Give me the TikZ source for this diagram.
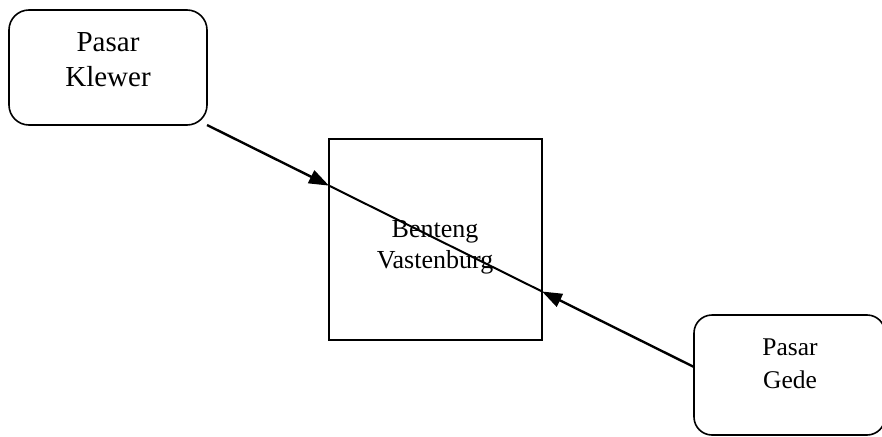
\documentclass[tikz,border=0pt]{standalone}
\usepackage{fontspec}
\setmainfont{Liberation Serif}
\usetikzlibrary{arrows.meta,calc}
% two centred lines whose baseline is that of the first line
\newcommand{\twolines}[2]{\begin{tabular}[t]{@{}c@{}}#1\\#2\end{tabular}}
\begin{document}
\begin{tikzpicture}[x=1pt,y=-1pt,
  place/.style={draw, line width=1.6pt, rounded corners=20pt, inner sep=0pt, outer sep=0pt},
  fort/.style={draw, line width=1.5pt, inner sep=0pt, outer sep=0pt},
  lbl/.style={anchor=base, inner sep=0pt, outer sep=0pt},
  conn/.style={line width=2.4pt},
  head/.style={-{Triangle[length=20pt,width=14pt]}}]
\useasboundingbox (0,0) rectangle (882,436);

% the three places
\node[place, minimum width=198pt, minimum height=115pt] (klewer) at (108,67.5) {};
\node[fort, minimum width=213pt, minimum height=201pt] (benteng) at (435.5,239.5) {};
\node[place, rounded corners=18pt, minimum width=191pt, minimum height=120pt] (gede) at (789.5,375) {};

% their names
\node[lbl, font=\fontsize{29}{35}\selectfont] (klewertext) at (108,52) {\twolines{Pasar}{Klewer}};
\node[lbl, font=\fontsize{26}{31}\selectfont] (bentengtext) at (435,237) {\twolines{Benteng}{Vastenburg}};
\node[lbl, font=\fontsize{25.5}{33}\selectfont] (gedetext) at (790,355) {\twolines{Pasar}{Gede}};

% the road through the fort, with an arrow from each market
\coordinate (gin) at ($(gede.west)+(0,-8)$);
\coordinate (t1) at (intersection of klewer.south east--gin and benteng.north west--benteng.south west);
\coordinate (t2) at (intersection of klewer.south east--gin and benteng.north east--benteng.south east);
\draw[conn, line width=2pt] (t1) -- (t2);
\draw[conn, head] (klewer.south east) -- (t1);
\draw[conn, head] (gin) -- (t2);
\end{tikzpicture}
\end{document}
